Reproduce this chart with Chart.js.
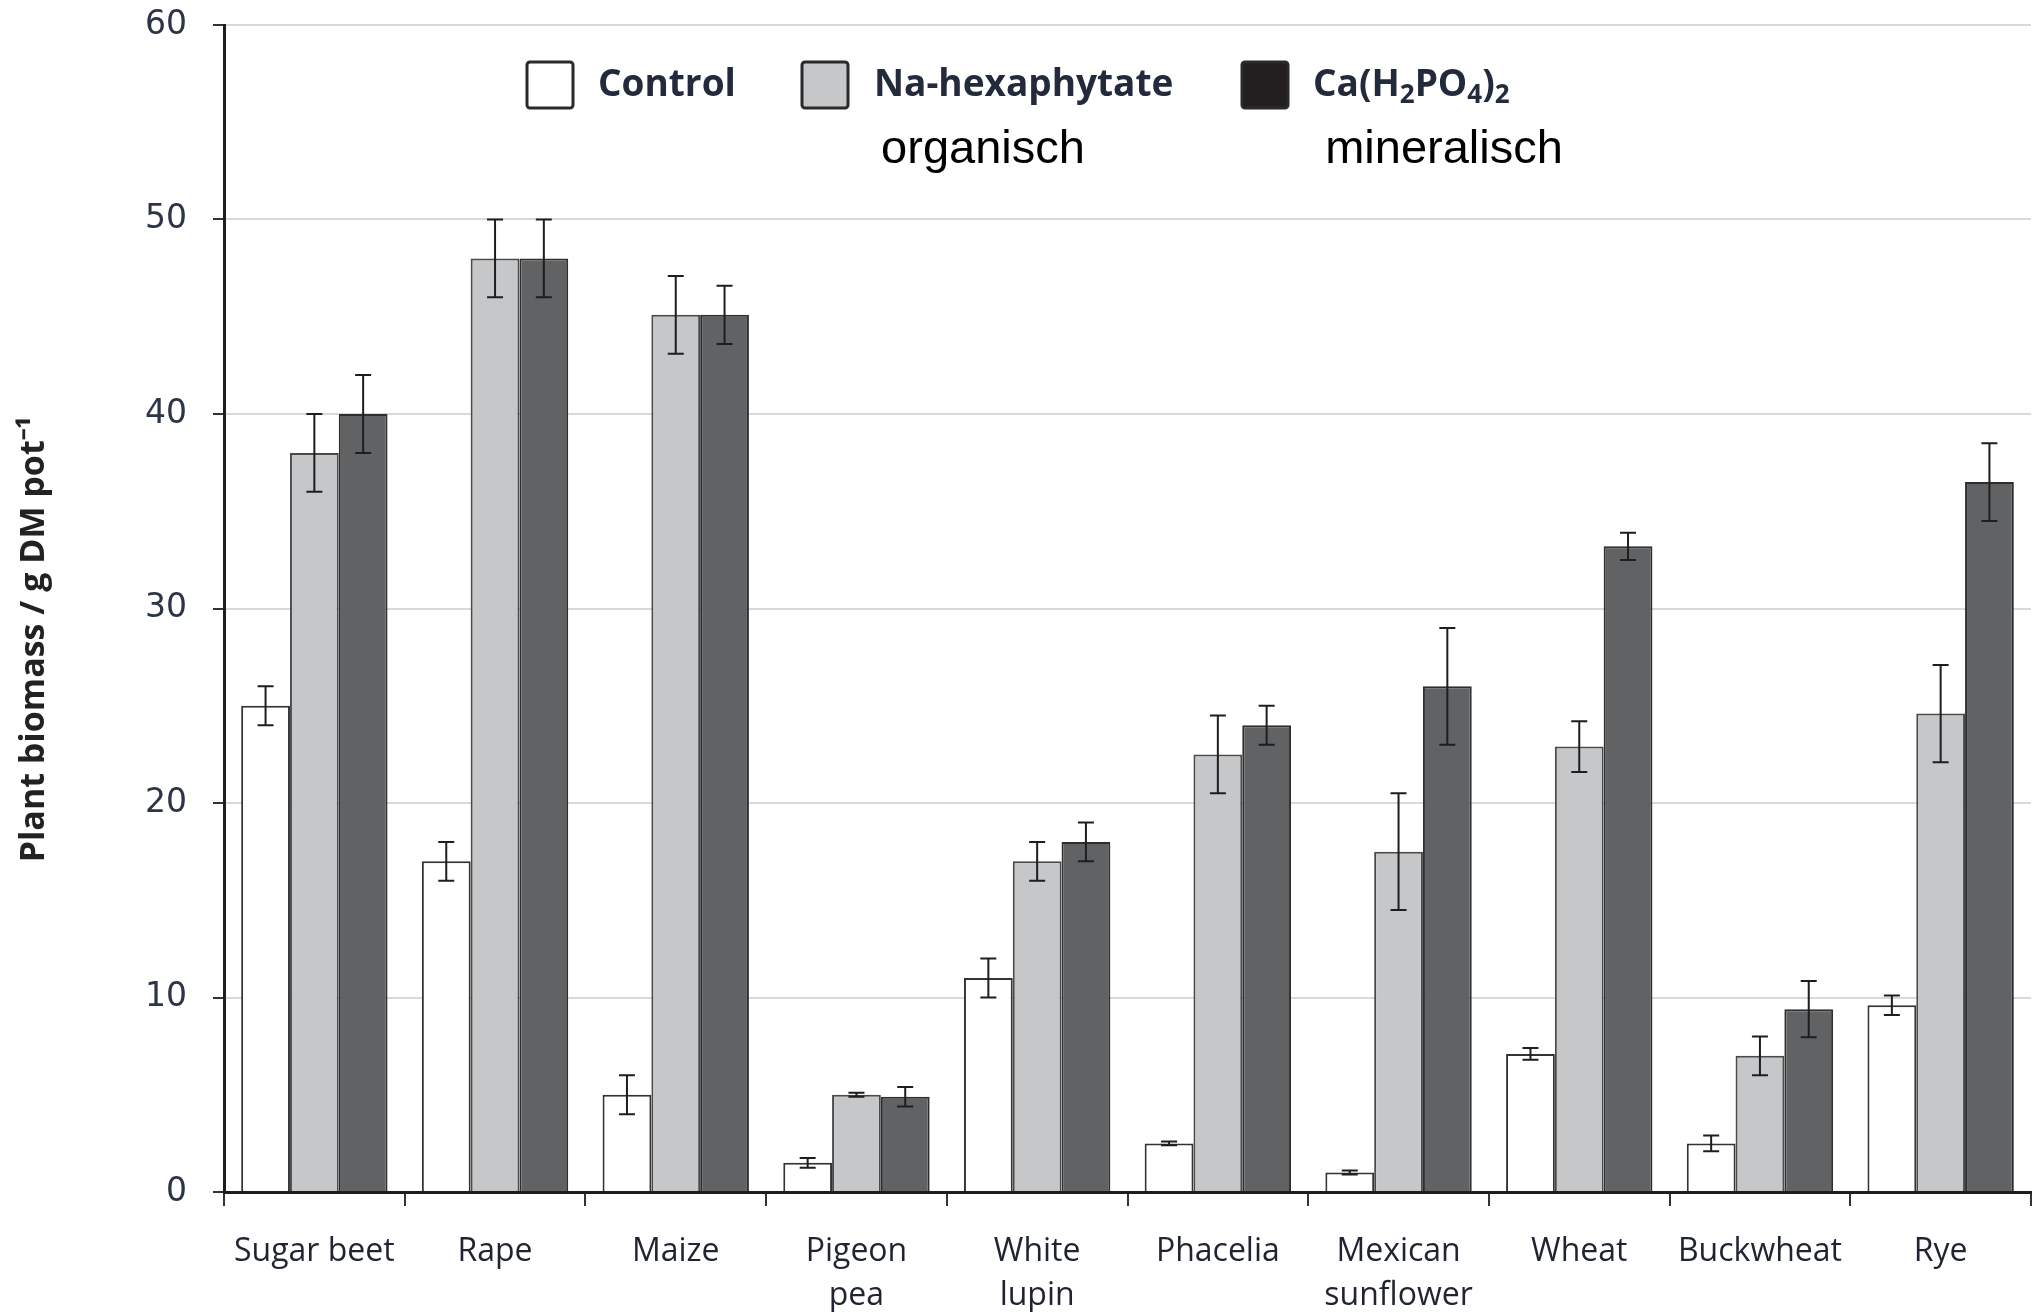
<!DOCTYPE html>
<html lang="en">
<head>
<meta charset="UTF-8" />
<title>Plant biomass</title>
<script src="https://cdn.jsdelivr.net/npm/chart.js"></script>
<style>
  html, body { margin: 0; padding: 0; background: #fff; }
  #chart-container { position: relative; width: 2038px; height: 1312px; }
</style>
</head>
<body>
<div id="chart-container"><canvas id="biomassChart"></canvas></div>
<script>
// data
const categories = ["Sugar beet", "Rape", "Maize", ["Pigeon", "pea"], ["White", "lupin"],
  "Phacelia", ["Mexican", "sunflower"], "Wheat", "Buckwheat", "Rye"];
const controlValues = [25, 17, 5, 1.5, 11, 2.5, 1.0, 7.1, 2.5, 9.6];
const controlErrors = [1, 1, 1, 0.25, 1, 0.1, 0.1, 0.3, 0.4, 0.5];
const phytateValues = [38, 48, 45.1, 5.0, 17, 22.5, 17.5, 22.9, 7.0, 24.6];
const phytateErrors = [2, 2, 2, 0.1, 1, 2, 3, 1.3, 1, 2.5];
const mineralValues = [40, 48, 45.1, 4.9, 18, 24, 26, 33.2, 9.4, 36.5];
const mineralErrors = [2, 2, 1.5, 0.5, 1, 1, 3, 0.7, 1.45, 2];
const seriesLabels = ["Control", "Na-hexaphytate", "Ca(H2PO4)2"];
const seriesNotes = ["", "organisch", "mineralisch"];

const errorSets = [controlErrors, phytateErrors, mineralErrors];

// error bars drawn from the y scale
const errorBars = {
  id: "errorBars",
  afterDatasetsDraw(chart) {
    const ctx = chart.ctx;
    const y = chart.scales.y;
    ctx.save();
    ctx.strokeStyle = "#1e1e1e";
    ctx.lineWidth = 2;
    chart.data.datasets.forEach((ds, i) => {
      const meta = chart.getDatasetMeta(i);
      meta.data.forEach((bar, j) => {
        const v = ds.data[j];
        const e = errorSets[i][j];
        const top = y.getPixelForValue(v + e);
        const bot = y.getPixelForValue(v - e);
        const cap = 8;
        ctx.beginPath();
        ctx.moveTo(bar.x, top);
        ctx.lineTo(bar.x, bot);
        ctx.moveTo(bar.x - cap, top);
        ctx.lineTo(bar.x + cap, top);
        ctx.moveTo(bar.x - cap, bot);
        ctx.lineTo(bar.x + cap, bot);
        ctx.stroke();
      });
    });
    ctx.restore();
  },
};

// legend inside the plot, with subscripts and notes underneath
const legendNotes = {
  id: "legendNotes",
  afterDraw(chart) {
    const ctx = chart.ctx;
    const boxX = [527, 802, 1242];
    const textX = [598, 874, 1313];
    const noteX = [0, 983, 1444];
    const boxFills = ["#ffffff", "#c6c7c9", "#231f20"];
    const boxTop = 62, boxSize = 46, textY = 85;
    ctx.save();
    chart.data.datasets.forEach((ds, i) => {
      ctx.fillStyle = boxFills[i];
      ctx.strokeStyle = "#2a2a2a";
      ctx.lineWidth = 3;
      ctx.beginPath();
      ctx.roundRect(boxX[i], boxTop, boxSize, boxSize, 3);
      ctx.fill();
      ctx.stroke();

      ctx.fillStyle = "#222a3c";
      ctx.textBaseline = "middle";
      ctx.textAlign = "left";
      let x = textX[i];
      // digits become subscripts
      const parts = ds.label.match(/[A-Za-z(\-)]+|\d/g);
      parts.forEach((p) => {
        const sub = /^\d$/.test(p);
        ctx.font = sub ? "bold 26px 'Open Sans'" : "bold 37px 'Open Sans'";
        ctx.fillText(p, x, sub ? textY + 11 : textY);
        x += ctx.measureText(p).width;
      });

      if (seriesNotes[i]) {
        ctx.font = "47px 'Liberation Sans'";
        ctx.fillStyle = "#000";
        ctx.textAlign = "center";
        ctx.fillText(seriesNotes[i], noteX[i], 150);
      }
    });
    ctx.restore();
  },
};

const ctx = document.getElementById("biomassChart").getContext("2d");
new Chart(ctx, {
  type: "bar",
  data: {
    labels: categories,
    datasets: [
      { label: seriesLabels[0], data: controlValues, backgroundColor: "#ffffff", borderColor: "#333333" },
      { label: seriesLabels[1], data: phytateValues, backgroundColor: "#c6c7c9", borderColor: "#4a4a4a" },
      { label: seriesLabels[2], data: mineralValues, backgroundColor: "#616264", borderColor: "#2e2e2e" },
    ].map((d) => ({ ...d, borderWidth: 2, borderSkipped: "bottom", categoryPercentage: 0.81, barPercentage: 1.0 })),
  },
  options: {
    responsive: true,
    maintainAspectRatio: false,
    animation: false,
    layout: { padding: { top: 25, right: 7, left: 0, bottom: 0 } },
    plugins: { legend: { display: false }, tooltip: { enabled: false } },
    scales: {
      x: {
        grid: { display: true, drawOnChartArea: false, offset: true, tickLength: 14, color: "#333", lineWidth: 2 },
        border: { color: "#1e1e1e", width: 3 },
        ticks: { color: "#1f2430", font: { family: "Open Sans", size: 32, lineHeight: 1.37 }, maxRotation: 0, autoSkip: false, padding: 24 },
        afterFit: (s) => { s.height = 120; },
      },
      y: {
        min: 0,
        max: 60,
        ticks: { stepSize: 10, color: "#2c3447", font: { family: "DejaVu Sans", size: 33 }, padding: 26 },
        grid: { color: "#d9d9d9", lineWidth: 2, tickLength: 11, tickColor: "#333" },
        border: { color: "#1e1e1e", width: 3 },
        title: {
          display: true,
          text: "Plant biomass / g DM pot⁻¹       ",
          color: "#222",
          font: { family: "Open Sans", size: 34, weight: "bold" },
          padding: { top: 14, bottom: 0 },
        },
        afterFit: (s) => { s.width = 224; s.paddingTop = 0; s.paddingBottom = 0; },
      },
    },
  },
  plugins: [errorBars, legendNotes],
});
</script>
</body>
</html>
